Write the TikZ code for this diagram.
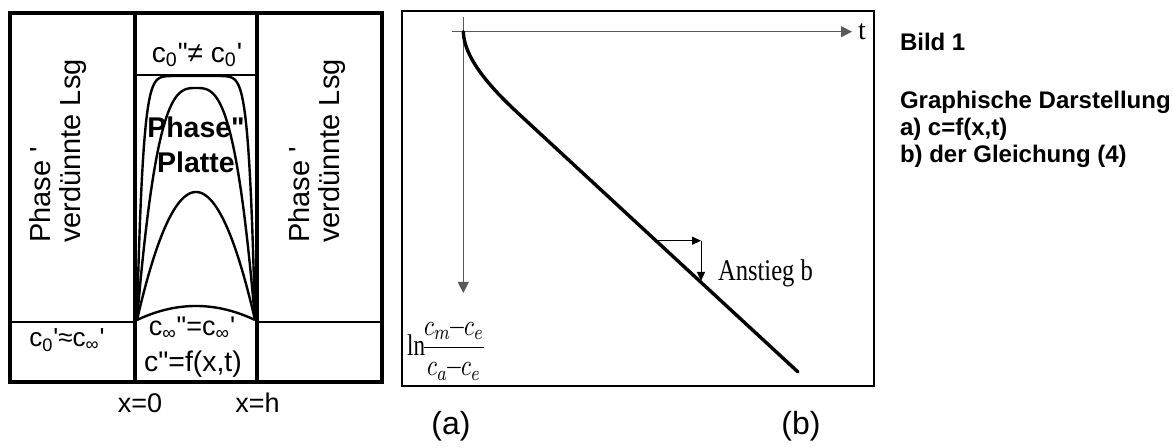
\documentclass[tikz,border=0pt]{standalone}
\usepackage{amsmath}
\usepackage{graphicx}
\usepackage{fontspec}
\setmainfont{Liberation Sans}
\newfontfamily\serifface{Liberation Serif}
\usepackage{tikz}
\usetikzlibrary{positioning, arrows.meta}

\newcommand{\fsz}[2]{\fontsize{#1}{#2}\selectfont}
\newcommand{\dquo}{\textquotedbl}
\newcommand{\squo}{\textquotesingle}

\begin{document}
\begin{tikzpicture}[
    x=0.5pt, y=-0.5pt,
    every node/.style={inner sep=0pt, outer sep=0pt},
    wall/.style={line width=2pt},
    rule/.style={line width=1pt},
    profile/.style={line width=1.2pt, line join=round},
    lbl/.style={font=\fsz{#1}{#1}},
    lbl/.default=14,
    phase/.style={rotate=90, anchor=west, align=left, font=\fsz{14.5}{15}},
    frame/.style={line width=0.8pt},
    axis/.style={line width=0.6pt, draw=black!65, -{Triangle[length=5.5pt, width=5.5pt]}},
    slope/.style={line width=0.5pt, -{Triangle[length=4.5pt, width=4pt]}},
    trend/.style={line width=1.7pt, line cap=round},
    caption/.style={font=\fsz{12}{13.5}\bfseries},
]
\useasboundingbox (0,0) rectangle (1173,448);

% (a) plate between two solution phases
\draw[wall] (9.5,13) rectangle (381.5,382);
\draw[wall] (135,13) -- (135,382);
\draw[wall] (257,13) -- (257,382);
\draw[rule] (135,75) -- (257,75);
\draw[rule] (9.5,322) -- (135,322);
\draw[rule] (257,322) -- (381.5,322);

\draw[profile] plot[domain=-1:1, samples=121] ({196+59*\x}, {320-244*(1-\x*\x*\x*\x*\x*\x*\x*\x*\x*\x)});
\draw[profile] plot[domain=-1:1, samples=121] ({196+59*\x}, {320-232*(1-abs(\x)*\x*\x)});
\draw[profile] plot[domain=-1:1, samples=121] ({196+59*\x}, {320-128*(1-\x*\x)});
\draw[profile] plot[domain=-1:1, samples=61] ({196+59*\x}, {320-14*(1-\x*\x)});

\node[phase] (lphase) at (58,243) {Phase \squo\\verdünnte Lsg};
\node[phase] (rphase) at (317,243) {Phase \squo\\verdünnte Lsg};

\node[lbl=14] (cnull) at (197,55) {c\textsubscript{0}\dquo≠ c\textsubscript{0}\squo};
\node[align=center, font=\fsz{14.25}{17.5}\bfseries] (plate) at (196,145) {Phase\dquo\\Platte};
\node[lbl=13.5] (cinf) at (192,328) {c\textsubscript{∞}\dquo=c\textsubscript{∞}\squo};
\node[lbl=14.2] (cfun) at (193,364) {c\dquo=f(x,t)};
\node[lbl=13] (cequ) at (67,340) {c\textsubscript{0}\squo≈c\textsubscript{∞}\squo};
\node[lbl=13.5] (xnull) at (140,403) {x=0};
\node[lbl=13.5] (xh) at (257.5,403) {x=h};
\node[lbl=16] (pa) at (451,426) {(a)};

% (b) logarithmic plot
\draw[frame] (402,11) rectangle (874,386);
\coordinate (O) at (463.3,31.7);
\coordinate (ytop) at (463.3,17);
\coordinate (xleft) at (452,31.7);
\coordinate (yend) at (463.3,293);
\coordinate (tend) at (852,31.7);
\draw[axis] (ytop) -- (yend);
\draw[axis] (xleft) -- (tend);
\node[right=3pt of tend, font=\serifface\fsz{14}{14}] (t) {t};

\coordinate (knee) at (520,115);
\coordinate (tail) at (798,372);
\draw[trend] (O) .. controls (464,60) and (495,92) .. (knee) -- (tail);

\coordinate (s1) at (657,240.7);
\coordinate (s2) at (701,240.7);
\coordinate (s3) at (701,281);
\draw[slope] (s1) -- (s2);
\draw[slope] (s2) -- (s3);
\node[anchor=west, font=\serifface\fsz{15}{15}] (anstieg) at (718,273) {\scalebox{0.82}[1]{Anstieg b}};

\node[xscale=1.15, yscale=1.5] (ylab) at (447,349)
    {$\text{\serifface ln}\!\dfrac{c_m\mkern-2mu{-}\mkern-2mu c_e}{c_a\mkern-2mu{-}\mkern-2mu c_e}$};
\node[lbl=16] (pb) at (801,426) {(b)};

\node[caption, anchor=base west] (bild) at (900,51) {Bild 1};
\node[caption, align=left, below=20pt of bild.south west, anchor=north west] (capt)
    {Graphische Darstellung\\a) c=f(x,t)\\b) der Gleichung (4)};
\end{tikzpicture}
\end{document}
